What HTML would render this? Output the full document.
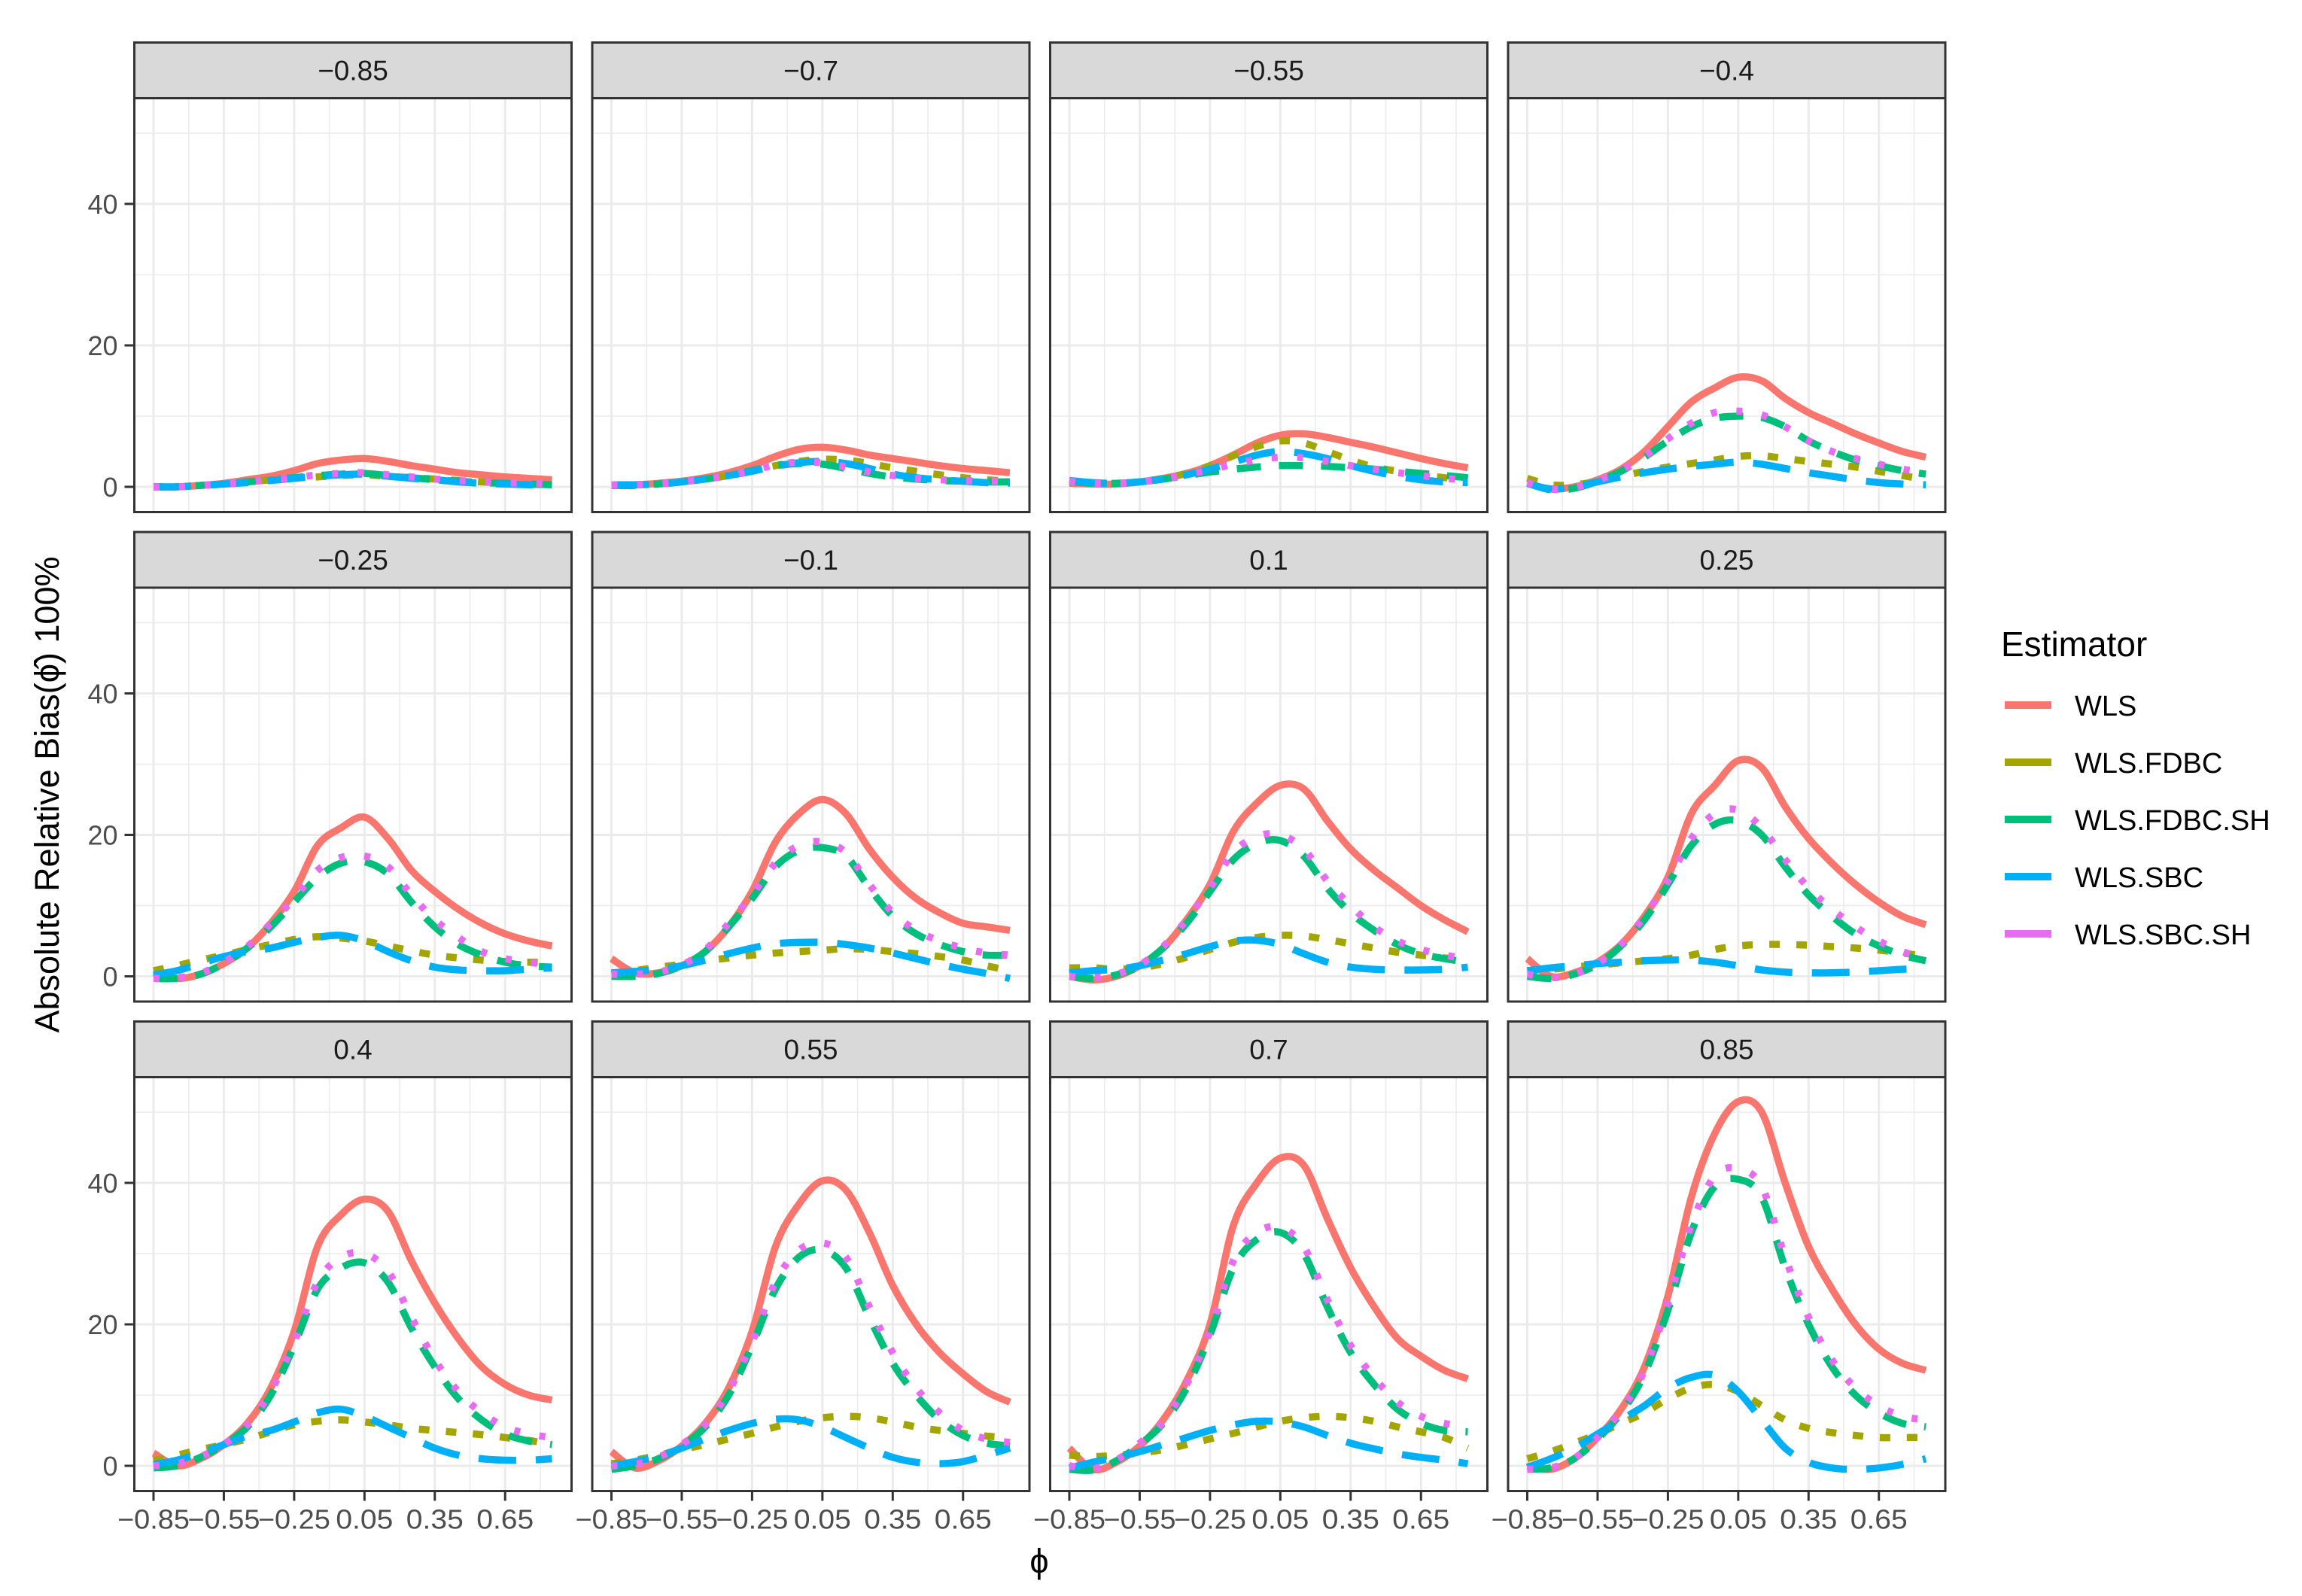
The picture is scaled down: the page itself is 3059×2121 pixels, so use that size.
<!DOCTYPE html>
<html><head><meta charset="utf-8">
<style>
html,body{margin:0;padding:0;background:#fff;}
svg{display:block;font-family:"Liberation Sans",sans-serif;}
</style></head>
<body>
<svg id="chart" width="3059" height="2121" viewBox="0 0 3059 2121" xmlns="http://www.w3.org/2000/svg">
<rect x="0" y="0" width="3059" height="2121" fill="#fff"/>
<g id="panels"></g>
<text x="0" y="0" transform="translate(78,1056) rotate(-90)" text-anchor="middle" font-size="45" fill="#000">Absolute Relative Bias(<tspan>ϕ̂</tspan>) 100%</text>
<text x="1381" y="2090" text-anchor="middle" font-size="45" fill="#000">ϕ</text>
<g id="legend"></g>
</svg>
<script>
const panelLabels = ["−0.85","−0.7","−0.55","−0.4","−0.25","−0.1","0.1","0.25","0.4","0.55","0.7","0.85"];
const xValues = [-0.85,-0.75,-0.65,-0.55,-0.45,-0.35,-0.25,-0.15,-0.05,0.05,0.15,0.25,0.35,0.45,0.55,0.65,0.75,0.85];
const xTicks = [-0.85,-0.55,-0.25,0.05,0.35,0.65];
const xTickLabels = ["−0.85","−0.55","−0.25","0.05","0.35","0.65"];
const yTicks = [0,20,40];
const yTickLabels = ["0","20","40"];
const seriesNames = ["WLS","WLS.FDBC","WLS.FDBC.SH","WLS.SBC","WLS.SBC.SH"];

const wls = [
 [0,0,0.2,0.5,1,1.5,2.3,3.3,3.8,4,3.6,3,2.5,2,1.7,1.4,1.2,1],
 [0.3,0.3,0.5,0.8,1.3,2,3,4.3,5.3,5.6,5.2,4.5,4,3.5,3,2.6,2.3,2],
 [0.5,0.4,0.4,0.7,1.2,1.9,3,4.5,6.2,7.3,7.5,7,6.3,5.6,4.8,4,3.3,2.7],
 [0.5,-0.3,0,1,2.5,5,8.5,12,14,15.5,15,12.5,10.5,9,7.5,6.2,5,4.2],
 [0.5,-0.3,0.3,1.8,4,7.5,12,18.5,21,22.5,19.5,15,12,9.5,7.5,6,5,4.3],
 [2.5,0.5,0.5,1.5,3.5,7,12,19,23,25,23,18,14,11,9,7.5,7,6.5],
 [0,-0.5,0,1.5,4,8,13,20.5,24.5,27,26.5,22,18,15,12.5,10,8,6.3],
 [2.5,0,0.5,2,4.5,8.5,14,23,27,30.5,29.5,24,19.5,16,13,10.5,8.5,7.3],
 [1.8,0,1,3,6,11,19,31,35.5,37.7,36,29,23,18,14,11.5,10,9.3],
 [2,-0.3,0.7,2.8,6,11,19,31,37,40.3,39,33,25.5,20,16,13,10.5,9],
 [2.5,-0.5,0.5,2.8,6.5,12,20,34,40,43.5,42.5,35,28,22.5,18,15.5,13.5,12.3],
 [0,-0.5,1,4,8,14,24,38,47,51.5,50,40,31,25,20,16.5,14.5,13.5]
];
const fdbc = [
 [0,0,0.2,0.4,0.7,1,1.2,1.4,1.6,1.7,1.5,1.3,1.1,0.9,0.7,0.5,0.4,0.3],
 [0.3,0.3,0.4,0.7,1.1,1.6,2.3,3,3.6,3.9,3.8,3.3,2.7,2.2,1.7,1.3,1,0.8],
 [0.8,0.5,0.5,0.7,1.2,1.9,3,4.4,5.7,6.5,6.2,5,3.8,2.8,2.2,1.7,1.3,1],
 [1.2,0.3,0.3,0.8,1.5,2.2,2.8,3.3,3.8,4.3,4.4,4,3.6,3.2,2.8,2.2,1.6,1],
 [0.8,1.5,2.3,3,3.8,4.5,5.2,5.6,5.4,5,4.3,3.6,3,2.6,2.3,2.1,2,2],
 [0.3,0.8,1.3,1.7,2.2,2.6,3,3.3,3.5,3.7,3.9,3.8,3.5,3.2,2.8,2.3,1.5,0.8],
 [1.2,1.2,1,1.2,1.8,2.7,3.8,4.8,5.5,5.8,5.7,5.2,4.6,4,3.4,3,2.6,2.5],
 [0.8,1,1.3,1.6,1.9,2.2,2.5,3,3.8,4.3,4.5,4.5,4.4,4.2,4,3.7,3.3,2.8],
 [0.7,1.5,2.3,3,3.8,4.8,5.8,6.3,6.5,6.2,5.8,5.3,5,4.7,4.4,4,3.6,3],
 [0.3,0.8,1.5,2.3,3,3.8,4.6,5.5,6.3,6.8,7,6.8,6.2,5.5,5,4.6,4.2,4],
 [1.5,1.3,1.5,1.8,2.3,3,3.8,4.6,5.5,6.3,6.8,7,6.8,6.3,5.5,4.8,4,2.5],
 [1,2,3.2,4.5,6,7.5,9.5,11,11.5,10.5,8.5,6.5,5.3,4.7,4.3,4,4,4]
];
const fdbcSh = [
 [0,0,0.2,0.4,0.7,1,1.3,1.6,1.8,1.9,1.6,1.3,1,0.8,0.6,0.5,0.4,0.3],
 [0.2,0.2,0.4,0.7,1.1,1.6,2.3,3,3.3,3.2,2.6,1.9,1.4,1.1,0.9,0.8,0.7,0.7],
 [0.8,0.5,0.5,0.7,1.1,1.6,2.1,2.5,2.8,3,3,2.9,2.7,2.5,2.2,1.9,1.6,1.3],
 [0.5,-0.4,-0.2,0.8,2.2,4.2,6.5,8.5,9.7,10,9.8,8.5,6.5,5,3.8,3,2.3,1.8],
 [-0.3,-0.3,0.3,1.8,4,7,10.5,14,16,16.2,14.5,10.5,7,4.5,3,2,1.5,1.3],
 [0,0,0.4,1.5,3.5,7,11,15.5,17.8,18.2,17,12.5,8.5,6,4.5,3.5,3,3],
 [0,-0.3,0.2,1.5,4,7.5,12,16.5,18.8,19.2,17,12.5,9,6.5,4.5,3.2,2.5,2],
 [0,-0.3,0.3,1.7,4.3,8,13,18.5,21.5,22,20,15.5,11.5,8.5,6,4.3,3,2.2],
 [-0.3,0,1.2,3,5.5,10,17,25,28,28.7,26,19.5,14,9.5,6.5,4.5,3.5,3],
 [-0.5,0,1,2.8,5.5,10,17,25,29.5,30.5,28,21,14.5,10,6.5,4.3,3.2,2.8],
 [-0.5,-0.6,0.7,3,6,11,18.5,28,32,33,30,22.5,16,11.5,8,6,5,4.8],
 [-0.5,-0.3,1,3.8,7.5,13,22,33,39.5,40.5,38,28,20,14,10,7.5,6,5.5]
];
const sbc = [
 [0,0,0.2,0.4,0.6,0.9,1.2,1.5,1.7,1.8,1.5,1.2,1,0.7,0.5,0.4,0.3,0.2],
 [0.3,0.3,0.4,0.7,1.1,1.6,2.2,2.9,3.4,3.6,3.3,2.6,1.8,1.3,1,0.8,0.6,0.5],
 [0.9,0.6,0.5,0.7,1.1,1.7,2.5,3.5,4.5,5,4.7,4,3,2.2,1.5,1,0.7,0.6],
 [0.5,-0.3,0,0.7,1.4,2,2.5,2.9,3.2,3.5,3.2,2.6,2,1.5,1,0.6,0.4,0.3],
 [0.2,0.8,1.8,2.8,3.5,4,4.8,5.5,5.8,5,3.5,2.2,1.3,0.9,0.8,0.8,1,1.2],
 [0.5,0.7,1,1.5,2.3,3.2,4,4.6,4.8,4.8,4.5,4,3.3,2.5,1.7,1,0.4,-0.3],
 [0.5,0.8,1,1.5,2.3,3.2,4.2,5,5.1,4.5,3.2,2,1.3,1,0.9,0.9,1,1.3],
 [0.8,1.2,1.5,1.8,2,2.2,2.3,2.3,2,1.5,0.9,0.6,0.5,0.5,0.6,0.8,1,1.1],
 [0.2,0.8,1.8,3,4.2,5,6.2,7.5,8,7,5.5,4,2.5,1.5,1,0.8,0.8,1],
 [0,0.6,1.4,2.5,3.8,5,6,6.6,6.5,5.5,4,2.5,1.2,0.5,0.3,0.6,1.5,2.5],
 [-0.3,0.5,1.2,2,3,4,5,5.8,6.3,6.2,5.5,4.3,3.2,2.4,1.7,1.2,0.8,0.3],
 [-0.2,1,2.5,4.5,6.5,8.5,11,12.5,12.8,10.5,6.5,2.5,0.5,-0.3,-0.5,-0.3,0.2,1]
];
const sbcSh = [
 [0,0,0.2,0.4,0.7,1,1.3,1.7,1.9,2,1.7,1.4,1.1,0.9,0.7,0.6,0.5,0.4],
 [0.3,0.3,0.4,0.7,1.1,1.6,2.3,3.1,3.5,3.4,2.8,2.1,1.6,1.2,1,0.9,0.8,0.8],
 [0.8,0.5,0.5,0.7,1.1,1.7,2.4,3.2,3.8,4.2,4.1,3.6,3,2.5,2,1.6,1.2,1],
 [0.6,-0.3,-0.1,0.9,2.3,4.3,6.8,9,10.5,10.7,10.2,8.5,6.5,5,4,3.2,2.5,2],
 [-0.3,-0.2,0.4,2,4.2,7.5,11,15,16.8,17,15.5,11.5,8,5.5,3.5,2.5,2,1.6],
 [0.3,0.3,0.6,1.6,3.7,7.5,11.5,16,18.5,19,17.5,13,9,6.5,5,4,3.3,3],
 [0,-0.2,0.3,1.6,4.2,8,12.5,17.5,19.8,20,18,13.5,10,7,5,3.8,3,2.5],
 [0.3,-0.2,0.3,1.8,4.5,8.5,13.5,19.5,23,23.5,21,16.5,12.5,9.5,7,5,3.5,2.5],
 [0,0.3,1.3,3,5.8,10.5,17.5,26,29.5,30,27.5,21,15,10.5,7.5,5.5,4.5,4],
 [0,0.2,1.2,3,5.8,10.5,17.5,26,30.5,31.5,29.5,22.5,16,11,7.5,5,3.8,3.3],
 [0,-0.4,0.8,3.2,6.2,11.5,19,29,33,33.7,31,23.5,17,12.5,9,7,6,5.5],
 [-0.5,-0.3,1,4,7.8,13.5,23,34,41,42,39.5,29.5,21,15,11,8.5,7,6.5]
];
const allSeries = [wls, fdbc, fdbcSh, sbc, sbcSh];

const NS = "http://www.w3.org/2000/svg";
const colors = ["#F8766D","#A3A500","#00BF7D","#00B0F6","#E76BF3"];
const dashes = ["", "14 22", "32 24", "50 26", "8 26"];
const seriesKeys = ["wls","fdbc","fdbc-sh","sbc","sbc-sh"];
const PX0 = 178.5, PDX = 608.5, PW = 581;
const ST0 = 56.5, PDY = 650.5, SH = 74, PH = 550;
const YOFF = 516.5, YPU = 9.4;
const XOFF = 25.5, XPU = 311.5;

function mk(tag, attrs, parent){
  const e = document.createElementNS(NS, tag);
  for (const k in attrs) e.setAttribute(k, attrs[k]);
  parent.appendChild(e);
  return e;
}
function xScale(left, v){ return left + XOFF + (v + 0.85) * XPU; }
function yScale(top, v){ return top + YOFF - v * YPU; }
function smoothPath(pts){
  let d = "M" + pts[0][0].toFixed(1) + "," + pts[0][1].toFixed(1);
  for (let i = 0; i < pts.length - 1; i++){
    const p0 = pts[Math.max(0,i-1)], p1 = pts[i], p2 = pts[i+1], p3 = pts[Math.min(pts.length-1,i+2)];
    const c1x = p1[0] + (p2[0]-p0[0])/6, c1y = p1[1] + (p2[1]-p0[1])/6;
    const c2x = p2[0] - (p3[0]-p1[0])/6, c2y = p2[1] - (p3[1]-p1[1])/6;
    d += " C" + c1x.toFixed(1) + "," + c1y.toFixed(1) + " " + c2x.toFixed(1) + "," + c2y.toFixed(1) + " " + p2[0].toFixed(1) + "," + p2[1].toFixed(1);
  }
  return d;
}

const panelsG = document.getElementById("panels");
for (let p = 0; p < 12; p++){
  const col = p % 4, row = Math.floor(p / 4);
  const left = PX0 + col * PDX;
  const stripTop = ST0 + row * PDY;
  const top = stripTop + SH;
  const g = mk("g", {}, panelsG);
  
  
  mk("rect", {x:left, y:top, width:PW, height:PH, fill:"#fff"}, g);
  const clipId = "clip" + p;
  const cp = mk("clipPath", {id:clipId}, g);
  mk("rect", {x:left, y:top, width:PW, height:PH}, cp);
  [10,30,50].forEach(v => {
    const ln = mk("line", {x1:left, x2:left+PW, y1:yScale(top,v), y2:yScale(top,v), stroke:"#ebebeb", "stroke-width":1.5}, g);
    
    
  });
  [-0.7,-0.4,-0.1,0.2,0.5,0.8].forEach(v => {
    const ln = mk("line", {x1:xScale(left,v), x2:xScale(left,v), y1:top, y2:top+PH, stroke:"#ebebeb", "stroke-width":1.5}, g);
    
    
  });
  yTicks.forEach(v => {
    const ln = mk("line", {x1:left, x2:left+PW, y1:yScale(top,v), y2:yScale(top,v), stroke:"#ebebeb", "stroke-width":3}, g);
    
    
  });
  xTicks.forEach(v => {
    const ln = mk("line", {x1:xScale(left,v), x2:xScale(left,v), y1:top, y2:top+PH, stroke:"#ebebeb", "stroke-width":3}, g);
    
    
  });
  const lg = mk("g", {"clip-path":"url(#"+clipId+")"}, g);
  for (let s = 0; s < 5; s++){
    const vals = allSeries[s][p];
    const pts = xValues.map((xv,i) => [xScale(left,xv), yScale(top, vals[i])]);
    const attrs = {d:smoothPath(pts), fill:"none", stroke:colors[s], "stroke-width":9.5, "stroke-linecap":"butt", "stroke-linejoin":"round"};
    if (dashes[s]) attrs["stroke-dasharray"] = dashes[s];
    const path = mk("path", attrs, lg);
    
    
  }
  const border = mk("rect", {x:left, y:top, width:PW, height:PH, fill:"none", stroke:"#333", "stroke-width":3}, g);
  
  
  const strip = mk("rect", {x:left, y:stripTop, width:PW, height:SH, fill:"#d9d9d9", stroke:"#333", "stroke-width":3}, g);
  
  
  const st = mk("text", {x:left+PW/2, y:stripTop+SH/2+13, "text-anchor":"middle", "font-size":37, fill:"#1a1a1a"}, g);
  st.textContent = panelLabels[p];
  
  
  if (col === 0){
    yTicks.forEach((v,i) => {
      const y = yScale(top, v);
      const tk = mk("line", {x1:left-13, x2:left, y1:y, y2:y, stroke:"#333", "stroke-width":3}, g);
      
      
      const t = mk("text", {x:left-22, y:y+13, "text-anchor":"end", "font-size":36, fill:"#4d4d4d"}, g);
      t.textContent = yTickLabels[i];
      
      
    });
  }
  if (row === 2){
    xTicks.forEach((v,i) => {
      const x = xScale(left, v);
      const tk = mk("line", {x1:x, x2:x, y1:top+PH, y2:top+PH+13, stroke:"#333", "stroke-width":3}, g);
      
      
      const t = mk("text", {x:x, y:top+PH+50, "text-anchor":"middle", "font-size":36, fill:"#4d4d4d", "textLength":i<3?96:76, "lengthAdjust":"spacingAndGlyphs"}, g);
      t.textContent = xTickLabels[i];
      
      
    });
  }
}

const leg = document.getElementById("legend");
const lt = mk("text", {x:2659, y:872, "font-size":46, fill:"#000"}, leg);
lt.textContent = "Estimator";


const legY = [937, 1013, 1089, 1165, 1241];
for (let s = 0; s < 5; s++){
  const eg = mk("g", {}, leg);
  
  
  mk("line", {x1:2664, x2:2726, y1:legY[s], y2:legY[s], stroke:colors[s], "stroke-width":10}, eg);
  const t = mk("text", {x:2757, y:legY[s]+14, "font-size":38, fill:"#000"}, eg);
  t.textContent = seriesNames[s];
}
</script>
</body></html>
